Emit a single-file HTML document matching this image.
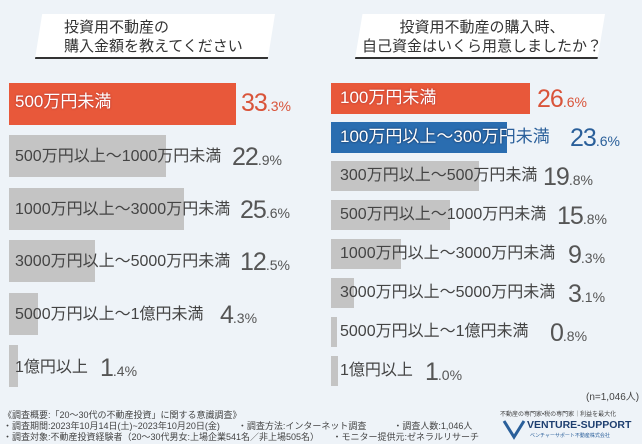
<!DOCTYPE html>
<html><head><meta charset="utf-8"><style>
*{margin:0;padding:0;box-sizing:border-box}
body{width:642px;height:444px;overflow:hidden;background:#eef3f8;font-family:"Liberation Sans","Noto Sans CJK JP",sans-serif;position:relative;color:#444}
.a{position:absolute}
.hdr{position:absolute;background:#fff;clip-path:polygon(3% 0,100% 0,97% 100%,0 100%);border-bottom:2px solid #333}
.ht{position:absolute;font-size:15px;line-height:19px;color:#333;white-space:nowrap}
.bar{position:absolute;left:9px}
.lb{position:absolute;font-size:16px;color:#444;white-space:nowrap;line-height:20px}
.pc{position:absolute;font-size:25px;color:#555;white-space:nowrap;line-height:24px;letter-spacing:-1px}
.pc small{font-size:14px;letter-spacing:0}
.w{color:#fff;text-shadow:0 0 2px #a33}
.f{position:absolute;font-size:9px;color:#444;white-space:nowrap}
</style></head><body>
<div class="hdr" style="left:35px;top:14px;width:240px;height:45px"></div>
<div class="ht" style="left:64px;top:18px">投資用不動産の<br>購入金額を教えてください</div>
<div class="hdr" style="left:355px;top:14px;width:250px;height:45px"></div>
<div class="ht" style="left:357px;top:18px;text-align:center;width:250px">投資用不動産の購入時、<br>自己資金はいくら用意しましたか？</div>

<div class="bar" style="top:83px;width:227px;height:42px;background:#e8583a"></div>
<div class="lb w" style="left:15px;top:92px;font-size:17px">500万円未満</div>
<div class="pc" style="left:241px;top:91px;color:#d9543a">33<small>.3%</small></div>

<div class="bar" style="top:135px;width:157px;height:42px;background:#c4c4c4"></div>
<div class="lb" style="left:15px;top:147px">500万円以上～1000万円未満</div>
<div class="pc" style="left:232px;top:145px">22<small>.9%</small></div>
<div class="bar" style="top:188px;width:175px;height:42px;background:#c4c4c4"></div>
<div class="lb" style="left:15px;top:200px">1000万円以上～3000万円未満</div>
<div class="pc" style="left:240px;top:198px">25<small>.6%</small></div>
<div class="bar" style="top:240px;width:86px;height:42px;background:#c4c4c4"></div>
<div class="lb" style="left:15px;top:252px">3000万円以上～5000万円未満</div>
<div class="pc" style="left:240px;top:250px">12<small>.5%</small></div>
<div class="bar" style="top:293px;width:29px;height:42px;background:#c4c4c4"></div>
<div class="lb" style="left:15px;top:305px">5000万円以上～1億円未満</div>
<div class="pc" style="left:220px;top:303px">4<small>.3%</small></div>
<div class="bar" style="top:345px;width:9px;height:42px;background:#c4c4c4"></div>
<div class="lb" style="left:15px;top:358px">1億円以上</div>
<div class="pc" style="left:100px;top:356px">1<small>.4%</small></div>

<div class="bar" style="left:331px;top:83px;width:199px;height:31px;background:#e8583a"></div>
<div class="lb w" style="left:340px;top:88px;font-size:17px">100万円未満</div>
<div class="pc" style="left:537px;top:87px;color:#d9543a">26<small>.6%</small></div>
<div class="bar" style="left:331px;top:122px;width:176px;height:31px;background:#2a6db0"></div>
<div class="lb" style="left:340px;top:127px;font-size:17px;color:#2a5f9a">100万円以上～300万円未満</div>
<div class="a" style="left:331px;top:122px;width:176px;height:31px;overflow:hidden"><div class="lb w" style="left:9px;top:5px;font-size:17px;text-shadow:0 0 2px #124">100万円以上～300万円未満</div></div>
<div class="pc" style="left:570px;top:126px;color:#2a5f9a">23<small>.6%</small></div>
<div class="bar" style="left:331px;top:161px;width:148px;height:30px;background:#c4c4c4"></div>
<div class="lb" style="left:340px;top:166px">300万円以上～500万円未満</div>
<div class="pc" style="left:543px;top:165px">19<small>.8%</small></div>
<div class="bar" style="left:331px;top:200px;width:119px;height:30px;background:#c4c4c4"></div>
<div class="lb" style="left:340px;top:205px">500万円以上～1000万円未満</div>
<div class="pc" style="left:557px;top:204px">15<small>.8%</small></div>
<div class="bar" style="left:331px;top:239px;width:70px;height:30px;background:#c4c4c4"></div>
<div class="lb" style="left:340px;top:244px">1000万円以上～3000万円未満</div>
<div class="pc" style="left:568px;top:243px">9<small>.3%</small></div>
<div class="bar" style="left:331px;top:278px;width:23px;height:30px;background:#c4c4c4"></div>
<div class="lb" style="left:340px;top:283px">3000万円以上～5000万円未満</div>
<div class="pc" style="left:568px;top:282px">3<small>.1%</small></div>
<div class="bar" style="left:331px;top:317px;width:6px;height:30px;background:#c4c4c4"></div>
<div class="lb" style="left:340px;top:322px">5000万円以上～1億円未満</div>
<div class="pc" style="left:550px;top:321px">0<small>.8%</small></div>
<div class="bar" style="left:331px;top:356px;width:7px;height:30px;background:#c4c4c4"></div>
<div class="lb" style="left:340px;top:361px">1億円以上</div>
<div class="pc" style="left:425px;top:360px">1<small>.0%</small></div>

<div class="f" style="left:586px;top:388px;font-size:10px">(n=1,046人)</div>
<div class="f" style="left:3px;top:408px">《調査概要:「20～30代の不動産投資」に関する意識調査》</div>
<div class="f" style="left:3px;top:419px">・調査期間:2023年10月14日(土)~2023年10月20日(金)　　・調査方法:インターネット調査　　　・調査人数:1,046人</div>
<div class="f" style="left:3px;top:430px">・調査対象:不動産投資経験者（20～30代男女:上場企業541名／非上場505名）　　・モニター提供元:ゼネラルリサーチ</div>
<div class="f" style="left:500px;top:409px;font-size:6px">不動産の専門家•税の専門家｜利益を最大化</div>
<svg class="a" style="left:502px;top:418px" width="24" height="22"><path d="M2 3 L12 19 L22 3" fill="none" stroke="#2a5f9a" stroke-width="3"/></svg>
<div class="f" style="left:527px;top:419px;font-size:10.5px;font-weight:bold;color:#1e3f70">VENTURE-SUPPORT</div>
<div class="f" style="left:530px;top:432px;font-size:5px;color:#2a5f9a">ベンチャーサポート不動産株式会社</div>
</body></html>
